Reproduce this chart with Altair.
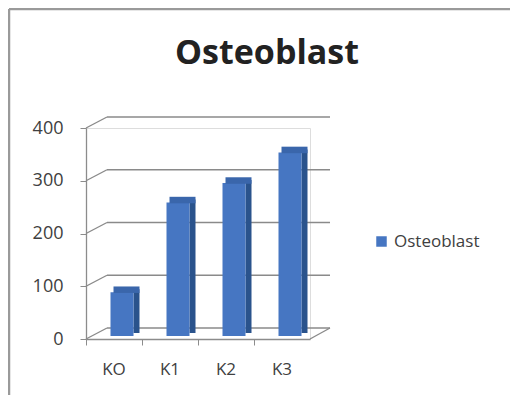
import altair as alt
import pandas as pd

categories = ["KO", "K1", "K2", "K3"]
values = [83, 253, 290, 348]
series_name = "Osteoblast"
y_ticks = [0, 100, 200, 300, 400]

df = pd.DataFrame({"cat": categories, "val": values, "series": [series_name] * 4})
grid_df = pd.DataFrame({"t": y_ticks})

W, H = 224, 211
FONT = "Open Sans"

xs = alt.X("cat:N", sort=categories, scale=alt.Scale(paddingInner=0, paddingOuter=0),
           axis=alt.Axis(title=None, labelAngle=0, labelFontSize=17, labelColor="#404040",
                         labelFont=FONT, labelPadding=16, tickSize=6, bandPosition=0,
                         domainColor="#8c8c8c", tickColor="#8c8c8c", domainWidth=1.3))
ys = alt.Y("val:Q", scale=alt.Scale(domain=[0, 400], nice=False),
           axis=alt.Axis(title=None, values=y_ticks, labelFontSize=18, labelColor="#404040",
                         labelFont=FONT, labelPadding=17, tickSize=6, grid=False,
                         domainColor="#8c8c8c", tickColor="#8c8c8c", domainWidth=1.3))
yscale = alt.Scale(domain=[0, 400], nice=False)

base = alt.Chart(df)

# back wall gridlines
grid = alt.Chart(grid_df).mark_rule(color="#8a8a8a", strokeWidth=1.4, yOffset=-11, clip=False).encode(
    y=alt.Y("t:Q", scale=yscale), x=alt.value(21), x2=alt.value(W + 20))
diag = alt.Chart(grid_df).transform_calculate(t2="datum.t + 20.85").mark_rule(
    color="#8a8a8a", strokeWidth=1.4, clip=False).encode(
    y=alt.Y("t:Q", scale=yscale), y2="t2:Q", x=alt.value(0), x2=alt.value(21))
floor_right = alt.Chart(grid_df).transform_filter("datum.t == 0").transform_calculate(
    t2="datum.t + 20.85").mark_rule(color="#8a8a8a", strokeWidth=1.4, clip=False).encode(
    y=alt.Y("t:Q", scale=yscale), y2="t2:Q", x=alt.value(W), x2=alt.value(W + 20))

side = base.mark_bar(color="#2a538c", width=6, xOffset=22.5, yOffset=-6).encode(x=xs, y=ys)
top = base.mark_tick(color="#3a66ab", opacity=1, orient="horizontal", thickness=6.5, size=26,
                     xOffset=12.5, yOffset=-5.5).encode(x=xs, y=alt.Y("val:Q", scale=yscale))
front = base.mark_bar(width=23, xOffset=8, yOffset=-3).encode(
    x=xs, y=ys,
    color=alt.Color("series:N", scale=alt.Scale(range=["#4676c2"]),
                    legend=alt.Legend(title=None, orient="none", legendX=287, legendY=105,
                                      symbolType="square", symbolSize=110, labelFontSize=17,
                                      labelFont=FONT, labelColor="#404040", padding=0,
                                      symbolStrokeWidth=0, labelOffset=4)))

title = alt.Chart(pd.DataFrame({"t": [series_name]})).mark_text(
    fontSize=34, fontWeight="bold", font=FONT, color="#222222", align="center",
    baseline="middle").encode(text="t:N", x=alt.value(181), y=alt.value(-74))

frame_left = alt.Chart(grid_df).transform_filter("datum.t == 0").mark_rule(
    color="#9a9a9a", strokeWidth=2.5, clip=False).encode(
    x=alt.value(-77), y=alt.value(-119), y2=alt.value(H + 60))
frame_top = alt.Chart(grid_df).transform_filter("datum.t == 0").mark_rule(
    color="#9a9a9a", strokeWidth=2.5, clip=False).encode(
    x=alt.value(-77), x2=alt.value(W + 210), y=alt.value(-119))

chart = alt.layer(grid, diag, floor_right, side, front, top, title, frame_left, frame_top).properties(
    width=W, height=H,
    autosize=alt.AutoSizeParams(type="none"),
    padding={"left": 78, "top": 120, "right": 200, "bottom": 56},
).configure_view(stroke=None).configure(background="white")

chart.save("out.html", embed_options={"renderer": "svg", "actions": False})
